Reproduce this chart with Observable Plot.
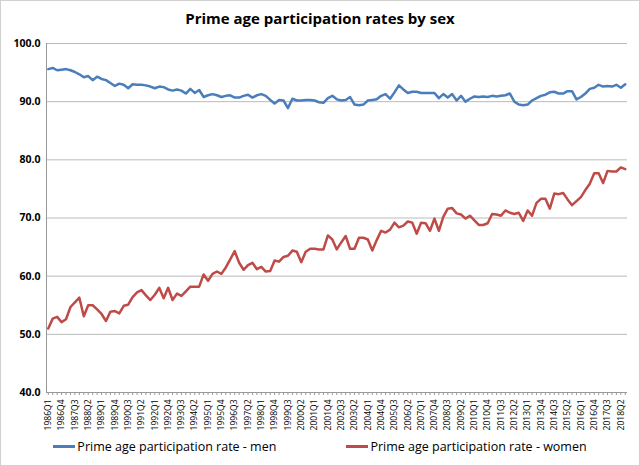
<!DOCTYPE html>
<html><head><meta charset="utf-8">
<script src="https://cdn.jsdelivr.net/npm/d3@7"></script>
<script src="https://cdn.jsdelivr.net/npm/@observablehq/plot@0.6"></script>
<style>
body{margin:0;background:#fff;font-family:"Open Sans","Liberation Sans",sans-serif;}
#wrap{position:relative;width:638px;height:464px;border:1px solid #d0d0d0;background:#fff;}
#title{height:30px;line-height:34px;text-align:center;font-size:15px;font-weight:bold;color:#000;}
#legend{display:flex;justify-content:center;gap:70px;font-size:12.5px;color:#000;margin-top:0px;}
#legend span{display:inline-flex;align-items:center;}
#legend i{display:inline-block;width:22px;height:3px;margin-right:2px;}
</style></head><body>
<div id="wrap"><div id="title">Prime age participation rates by sex</div><div id="chart"></div>
<div id="legend"><span><i style="background:#4a7ebb"></i>Prime age participation rate - men</span><span><i style="background:#be4b48"></i>Prime age participation rate - women</span></div></div>
<script>
const startYear = 1986;
const men = [95.6,95.8,95.4,95.5,95.6,95.4,95.1,94.7,94.2,94.4,93.7,94.3,93.9,93.7,93.2,92.7,93.1,92.9,92.3,93.0,92.9,92.9,92.8,92.6,92.3,92.6,92.5,92.1,91.9,92.1,91.9,91.4,92.2,91.5,92.0,90.8,91.1,91.3,91.1,90.8,91.0,91.1,90.7,90.7,91.0,91.2,90.7,91.1,91.3,91.0,90.3,89.7,90.3,90.2,88.9,90.5,90.2,90.2,90.3,90.3,90.2,89.9,89.8,90.6,91.0,90.4,90.2,90.3,90.8,89.5,89.4,89.5,90.2,90.3,90.4,91.0,91.3,90.5,91.6,92.8,92.1,91.5,91.7,91.7,91.5,91.5,91.5,91.5,90.6,91.3,90.7,91.3,90.2,91.0,90.0,90.5,90.9,90.8,90.9,90.8,91.0,90.9,91.0,91.1,91.4,90.0,89.5,89.4,89.5,90.2,90.6,91.0,91.2,91.6,91.7,91.4,91.4,91.8,91.8,90.4,90.8,91.4,92.2,92.4,92.9,92.6,92.7,92.6,92.9,92.4,93.0];
const women = [51.0,52.7,53.0,52.1,52.6,54.7,55.5,56.3,53.1,55.0,55.0,54.3,53.5,52.3,53.9,54.0,53.6,54.9,55.1,56.4,57.2,57.6,56.7,55.9,56.8,58.0,56.2,58.0,55.9,57.0,56.6,57.4,58.2,58.2,58.2,60.3,59.2,60.4,60.8,60.4,61.5,62.9,64.3,62.3,61.1,61.9,62.3,61.2,61.6,60.8,60.9,62.7,62.5,63.3,63.5,64.4,64.2,62.4,64.2,64.7,64.7,64.6,64.6,67.0,66.3,64.6,65.8,66.9,64.7,64.7,66.6,66.6,66.3,64.4,66.2,67.8,67.5,68.0,69.2,68.4,68.7,69.4,69.2,67.3,69.2,69.1,67.8,69.9,67.8,70.2,71.6,71.7,70.8,70.6,69.9,70.4,69.6,68.8,68.8,69.1,70.7,70.6,70.4,71.3,70.9,70.7,70.9,69.5,71.3,70.4,72.6,73.3,73.3,71.6,74.2,74.1,74.3,73.2,72.2,72.9,73.6,74.8,75.9,77.7,77.7,76.0,78.1,78.0,78.0,78.7,78.4];
const yTicks = [40,50,60,70,80,90,100];
const qLabel = i => `${startYear + Math.floor(i/4)}Q${i%4+1}`;
const idx = men.map((_, i) => i);
const data = [
  ...men.map((v,i)=>({i,v,s:"men"})),
  ...women.map((v,i)=>({i,v,s:"women"}))
];
const chart = Plot.plot({
  width: 638, height: 407,
  marginTop: 12, marginLeft: 45, marginRight: 12, marginBottom: 46,
  style: {fontFamily: '"Open Sans","Liberation Sans",sans-serif', fontSize: "9px", color: "#000"},
  x: {domain: [-0.4, men.length - 0.5]},
  y: {domain: [40, 100]},
  marks: [
    Plot.gridY(yTicks, {stroke: "#bbb", strokeOpacity: 1}),
    Plot.ruleX([-0.4], {stroke: "#999"}),
    Plot.ruleY([40], {stroke: "#999"}),
    Plot.axisY(yTicks, {tickFormat: d => d.toFixed(1), tickSize: 0, tickPadding: 6, fontSize: 10.5, fontWeight: "bold", label: null}),
    Plot.axisX(idx, {tickFormat: i => i % 3 === 0 ? qLabel(i) : "", tickRotate: -90, tickSize: 3, stroke: "#999", tickPadding: 4, fontSize: 8.5, label: null}),
    Plot.line(data, {x: "i", y: "v", z: "s", stroke: d => d.s === "men" ? "#4a7ebb" : "#be4b48", strokeWidth: 2.5})
  ]
});
document.getElementById("chart").appendChild(chart);
</script></body></html>
